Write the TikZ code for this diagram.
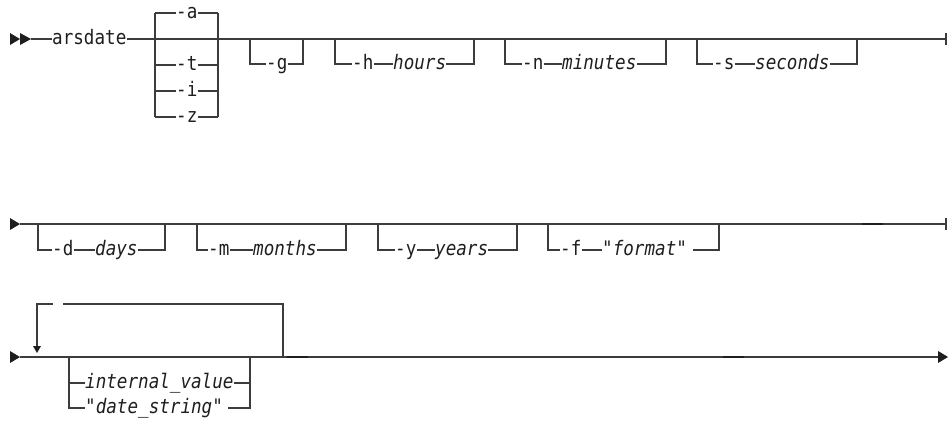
\documentclass[tikz,border=0pt]{standalone}
\usepackage{fontspec}
\setmonofont[FakeStretch=0.88]{DejaVu Sans Mono}
\definecolor{railgray}{HTML}{3C3C3C}
\definecolor{inkblack}{HTML}{1E1E1E}
\newcommand{\railfont}{\ttfamily\fontsize{20}{24}\selectfont}
\begin{document}
% the surrounding font sets the ex used by the mid anchors
\railfont
\begin{tikzpicture}[x=1pt,y=-1pt,
  rail/.style={draw=railgray, line width=1.2pt},
  heavy/.style={draw=inkblack, line width=2pt},
  kw/.style={inner sep=0pt, anchor=mid west, text=inkblack, font=\railfont},
  var/.style={kw, font=\railfont\itshape},
  tip/.style={fill=inkblack, draw=none},
]
\useasboundingbox (0,0) rectangle (948,423);

% ---------------- row 1 ----------------
\fill[tip] (10,33) -- (20,39) -- (10,45) -- cycle;
\fill[tip] (20,33) -- (31,39) -- (20,45) -- cycle;
\coordinate (r1in) at (31,39);
\coordinate (r1end) at (946,39);
\node[kw] (arsdate) at (52,39) {arsdate};
\draw[rail] (r1in) -- (arsdate.mid west);
\draw[rail] (arsdate.mid east) -- (r1end);
\draw[rail] ([yshift=-6pt]r1end) -- ([yshift=6pt]r1end);

% mode choice
\draw[rail] (155,13) -- (155,117);
\draw[rail] (218,13) -- (218,117);
\node[kw] (opta) at (176,13) {-a};
\node[kw] (optt) at (176,65) {-t};
\node[kw] (opti) at (176,91) {-i};
\node[kw] (optz) at (176,117) {-z};
\foreach \o/\yy in {opta/13,optt/65,opti/91,optz/117}{
  \draw[rail] (155,\yy) -- (\o.mid west);
  \draw[rail] (\o.mid east) -- (218,\yy);
}

% -g
\node[kw] (optg) at (266,64) {-g};
\draw[rail] (250,39) -- (250,64) -- (optg.mid west);
\draw[rail] (optg.mid east) -- (303,64) -- (303,39);

% -h hours
\node[kw] (opth) at (352,64) {-h};
\node[var] (hours) at (393,64) {hours};
\draw[rail] (335,39) -- (335,64) -- (opth.mid west);
\draw[rail] (opth.mid east) -- (hours.mid west);
\draw[rail] (hours.mid east) -- (474,64) -- (474,39);

% -n minutes
\node[kw] (optn) at (522,64) {-n};
\node[var] (minutes) at (562,64) {minutes};
\draw[rail] (505,39) -- (505,64) -- (optn.mid west);
\draw[rail] (optn.mid east) -- (minutes.mid west);
\draw[rail] (minutes.mid east) -- (666,64) -- (666,39);

% -s seconds
\node[kw] (opts) at (713,64) {-s};
\node[var] (seconds) at (755,64) {seconds};
\draw[rail] (697,39) -- (697,64) -- (opts.mid west);
\draw[rail] (opts.mid east) -- (seconds.mid west);
\draw[rail] (seconds.mid east) -- (857,64) -- (857,39);

% ---------------- row 2 ----------------
\fill[tip] (10,218) -- (20,224) -- (10,230) -- cycle;
\coordinate (r2in) at (20,224);
\coordinate (r2end) at (946,224);
\draw[rail] (r2in) -- (r2end);
\draw[rail] ([yshift=-6pt]r2end) -- ([yshift=6pt]r2end);
\draw[heavy] (862,224) -- (883,224);

% -d days
\node[kw] (optd) at (52,250) {-d};
\node[var] (days) at (95,250) {days};
\draw[rail] (38,224) -- (38,250) -- (optd.mid west);
\draw[rail] (optd.mid east) -- (days.mid west);
\draw[rail] (days.mid east) -- (165,250) -- (165,224);

% -m months
\node[kw] (optm) at (208,250) {-m};
\node[var] (months) at (253,250) {months};
\draw[rail] (197,224) -- (197,250) -- (optm.mid west);
\draw[rail] (optm.mid east) -- (months.mid west);
\draw[rail] (months.mid east) -- (346,250) -- (346,224);

% -y years
\node[kw] (opty) at (395,250) {-y};
\node[var] (years) at (435,250) {years};
\draw[rail] (378,224) -- (378,250) -- (opty.mid west);
\draw[rail] (opty.mid east) -- (years.mid west);
\draw[rail] (years.mid east) -- (517,250) -- (517,224);

% -f "format"
\node[kw] (optf) at (560,250) {-f};
\node[var] (format) at (602,250) {"format"};
\draw[rail] (548,224) -- (548,250) -- (optf.mid west);
\draw[rail] (optf.mid east) -- (format.mid west);
\draw[rail] ([xshift=6pt]format.mid east) -- (719,250) -- (719,224);

% ---------------- row 3 ----------------
\fill[tip] (10,351) -- (20,357) -- (10,363) -- cycle;
\coordinate (r3in) at (20,357);
\coordinate (r3end) at (938,357);
\draw[rail] (r3in) -- (r3end);
\fill[tip] (938,351) -- (948,357) -- (938,363) -- cycle;
\draw[heavy] (287,357) -- (308,357);
\draw[heavy] (723,357) -- (744,357);

% repeat loop
\draw[rail] (283,357) -- (283,304) -- (63,304);
\draw[rail] (53,304) -- (37,304) -- (37,347);
\fill[tip] (33,346) -- (41,346) -- (37,353) -- cycle;

% value choice
\node[var] (ival) at (85,383) {internal\_value};
\node[var] (dstr) at (85,408) {"date\_string"};
\draw[rail] (69,357) -- (69,408) -- (dstr.mid west);
\draw[rail] (69,383) -- (ival.mid west);
\draw[rail] (ival.mid east) -- (250,383);
\draw[rail] ([xshift=5pt]dstr.mid east) -- (250,408) -- (250,357);
\end{tikzpicture}
\end{document}
